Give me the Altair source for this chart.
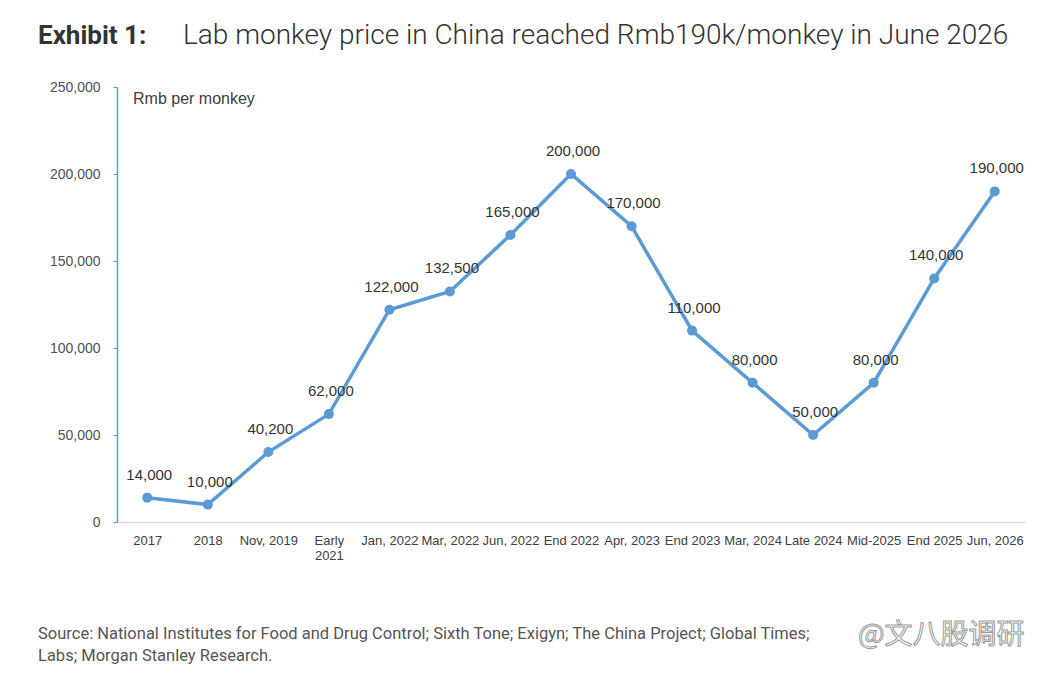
import pandas as pd
import altair as alt

PLOT_W = 908
PLOT_H = 435
BLUE = "#5b9bd5"

periods = ["2017", "2018", "Nov, 2019", "Early 2021", "Jan, 2022", "Mar, 2022",
           "Jun, 2022", "End 2022", "Apr, 2023", "End 2023", "Mar, 2024",
           "Late 2024", "Mid-2025", "End 2025", "Jun, 2026"]
prices = [14000, 10000, 40200, 62000, 122000, 132500, 165000, 200000,
          170000, 110000, 80000, 50000, 80000, 140000, 190000]
y_ticks = [0, 50000, 100000, 150000, 200000, 250000]

title_bold = "Exhibit 1:"
title_main = "Lab monkey price in China reached Rmb190k/monkey in June 2026"
y_label = "Rmb per monkey"
# the end of the first source line is hidden under the watermark
source = ("Source: National Institutes for Food and Drug Control; Sixth Tone; Exigyn; "
          "The China Project; Global Times;\n"
          "Labs; Morgan Stanley Research.")
watermark = "@文八股调研"

df = pd.DataFrame({"period": periods, "price": prices})
df["label"] = df["price"].map("{:,}".format)

x_enc = alt.X("period:N", sort=periods, title=None,
              scale=alt.Scale(paddingInner=0, paddingOuter=0),
              axis=alt.Axis(domainColor="#d9d9d9", domainWidth=1.5, ticks=False,
                            labelAngle=0, labelPadding=12, labelFontSize=13,
                            labelColor="#404040", labelFont="Liberation Sans",
                            labelLimit=200,
                            labelExpr="datum.value == 'Early 2021' ? ['Early', '2021'] : datum.value"))
y_enc = alt.Y("price:Q", title=None,
              scale=alt.Scale(domain=[0, 250000], nice=False),
              axis=alt.Axis(values=y_ticks, format=",.0f", grid=False,
                            domainColor=BLUE, domainWidth=1.5,
                            tickColor=BLUE, tickSize=4, labelPadding=13,
                            labelFontSize=14, labelColor="#505050",
                            labelFont="Liberation Sans"))

base = alt.Chart(df).encode(x=x_enc, y=y_enc)

line = base.mark_line(color=BLUE, strokeWidth=3.5)
points = base.mark_circle(color=BLUE, size=100, opacity=1)
labels = base.mark_text(dx=2, dy=-23, fontSize=15, color="#333333",
                        font="Liberation Sans").encode(text="label:N")


def note(txt, x, y, **kw):
    return alt.Chart(pd.DataFrame({"t": [txt]})).mark_text(**kw).encode(
        text="t:N", x=alt.value(x), y=alt.value(y))


unit = note(y_label, 16, 12, align="left", baseline="middle", fontSize=16,
            color="#404040", font="Liberation Sans")
t1 = note(title_bold, -79, -51, align="left", baseline="middle", fontSize=26,
          fontWeight="bold", color="#333333", font="Roboto")
t2 = note(title_main, 66, -51, align="left", baseline="middle", fontSize=28,
          fontWeight=300, color="#333333", font="Roboto")
src = note(source, -79, 539, align="left", baseline="top", fontSize=16.5,
           lineBreak="\n", lineHeight=22, color="#555555", font="Roboto")
wm = note(watermark, 741, 549, align="left", baseline="middle", fontSize=28,
          color="white", stroke="#9a9a9a", strokeWidth=1,
          font="Noto Sans CJK SC")

chart = alt.layer(line, points, labels, unit, t1, t2, src, wm).properties(
    width=PLOT_W, height=PLOT_H,
    autosize=alt.AutoSizeParams(type="none"),
    padding={"left": 109, "top": 79, "right": 18, "bottom": 150},
).configure_view(stroke=None)

chart.save("out.html", embed_options={"renderer": "svg", "actions": False})
